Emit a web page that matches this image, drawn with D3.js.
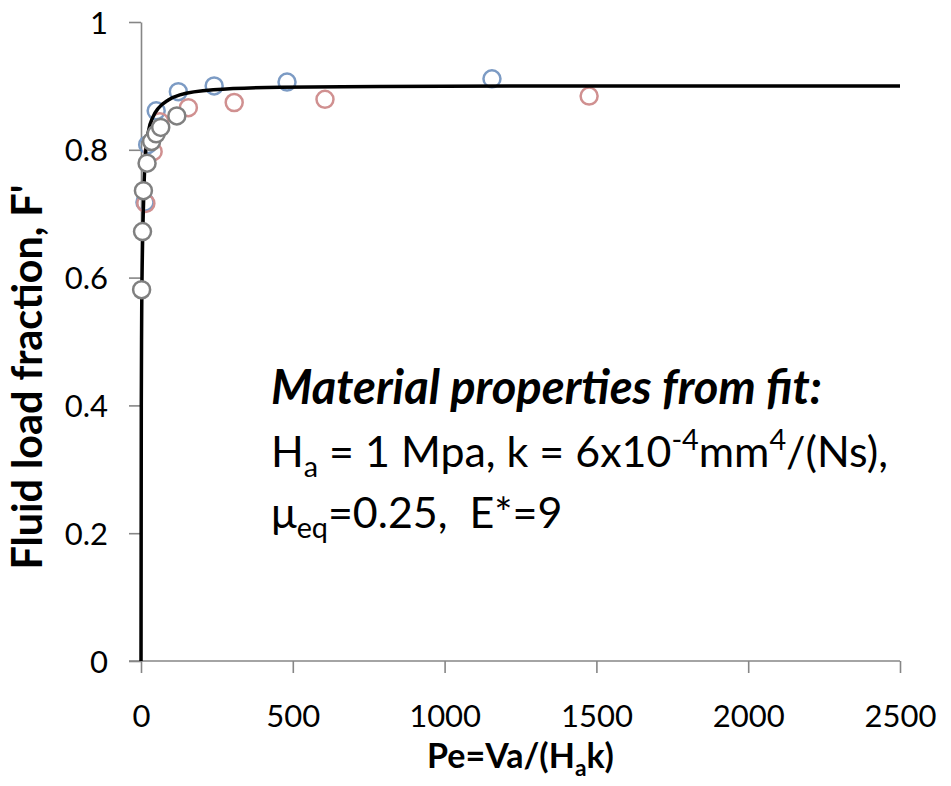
<!DOCTYPE html>
<html>
<head>
<meta charset="utf-8">
<script src="https://cdn.jsdelivr.net/npm/d3@7"></script>
<style>
  body { margin: 0; background: #fff; }
  text { font-family: Lato, "Open Sans", sans-serif; fill: #000; }
</style>
</head>
<body>
<div id="chart"></div>
<script>
// measured points (Pe, F')
var blueX = [13, 22, 50, 123, 241, 481, 1156];
var blueY = [0.718, 0.808, 0.861, 0.891, 0.900, 0.906, 0.911];
var redX = [16, 40, 62, 156, 307, 606, 1476];
var redY = [0.716, 0.797, 0.844, 0.866, 0.874, 0.879, 0.884];
var grayX = [2, 5, 8, 20, 35, 50, 65, 118];
var grayY = [0.581, 0.672, 0.736, 0.779, 0.813, 0.825, 0.835, 0.853];

// fitted curve
var fitX = [0, 1, 2, 5, 8, 13, 24, 40, 57, 90, 128, 238, 458, 787, 1500, 2500];
var fitY = [0, 0.40, 0.52, 0.65, 0.71, 0.78, 0.828, 0.852, 0.865, 0.878, 0.886, 0.894, 0.898, 0.899, 0.900, 0.900];

var xTicks = [0, 500, 1000, 1500, 2000, 2500];
var yTicks = [0, 0.2, 0.4, 0.6, 0.8, 1];

var width = 951, height = 786;
var plotLeft = 141, plotRight = 900, plotTop = 22, plotBottom = 661;

var svg = d3.select("#chart").append("svg").attr("width", width).attr("height", height);

var x = d3.scaleLinear().domain([0, 2500]).range([plotLeft, plotRight]);
var y = d3.scaleLinear().domain([0, 1]).range([plotBottom, plotTop]);

function zip(xs, ys) {
    return xs.map(function (d, i) { return [d, ys[i]]; });
}

// set font size so the text spans a given width
function fitWidth(sel, w) {
    var len = sel.node().getComputedTextLength();
    var fs = parseFloat(sel.attr("font-size"));
    sel.attr("font-size", fs * w / len);
    return fs * w / len;
}

var axisColor = "#868686";

var xAxis = svg.append("g")
    .attr("transform", "translate(0," + plotBottom + ")")
    .call(d3.axisBottom(x).tickValues(xTicks).tickSize(12).tickSizeOuter(0).tickFormat(d3.format("d")));
var yAxis = svg.append("g")
    .attr("transform", "translate(" + plotLeft + ",0)")
    .call(d3.axisLeft(y).tickValues(yTicks).tickSize(12).tickSizeOuter(0)
        .tickFormat(function (d) { return d === 0 || d === 1 ? d : d.toFixed(1); }));

[xAxis, yAxis].forEach(function (g) {
    g.select(".domain").attr("stroke", axisColor).attr("stroke-width", 1.6);
    g.selectAll(".tick line").attr("stroke", axisColor).attr("stroke-width", 1.6);
    g.selectAll(".tick text").attr("font-size", 31).attr("font-family", "Lato").attr("fill", "#000");
});
xAxis.select(".domain").attr("d", "M" + (plotLeft - 12) + ",0H" + plotRight);
xAxis.selectAll(".tick text").attr("y", 66).attr("dy", 0);
yAxis.selectAll(".tick text").attr("x", -33).attr("dy", "0.36em");

function drawPoints(xs, ys, color, fill) {
    svg.append("g").selectAll("circle")
        .data(zip(xs, ys))
        .enter()
        .append("circle")
        .attr("cx", function (d) { return x(d[0]); })
        .attr("cy", function (d) { return y(d[1]); })
        .attr("r", 8.5)
        .attr("fill", fill)
        .attr("stroke", color)
        .attr("stroke-width", 2.5);
}

drawPoints(blueX, blueY, "#7C9BC4", "none");
drawPoints(redX, redY, "#D09090", "none");

var line = d3.line()
    .x(function (d) { return x(d[0]); })
    .y(function (d) { return y(d[1]); })
    .curve(d3.curveMonotoneX);

svg.append("path")
    .datum(zip(fitX, fitY))
    .attr("d", line)
    .attr("fill", "none")
    .attr("stroke", "#000")
    .attr("stroke-width", 3.5);

drawPoints(grayX, grayY, "#808080", "#fff");

// axis titles
var xTitle = svg.append("text")
    .attr("x", (plotLeft + plotRight) / 2)
    .attr("y", 768)
    .attr("text-anchor", "middle")
    .attr("font-weight", "bold")
    .attr("font-size", 32);
xTitle.append("tspan").text("Pe=Va/(H");
xTitle.append("tspan").text("a").attr("font-size", "0.67em").attr("baseline-shift", "-0.35em");
xTitle.append("tspan").text("k)");
fitWidth(xTitle, 187);

var yTitle = svg.append("text")
    .attr("transform", "translate(42,377) rotate(-90)")
    .attr("text-anchor", "middle")
    .attr("font-weight", "bold")
    .attr("font-size", 32)
    .text("Fluid load fraction, F'");
fitWidth(yTitle, 385);

// annotation
var note1 = svg.append("text")
    .attr("x", 271).attr("y", 404)
    .attr("font-weight", "bold").attr("font-style", "italic")
    .attr("font-size", 44)
    .text("Material properties from fit:");
fitWidth(note1, 551);

var note2 = svg.append("text")
    .attr("x", 271).attr("y", 467)
    .attr("font-size", 44);
note2.append("tspan").text("H");
note2.append("tspan").text("a").attr("font-size", "0.67em").attr("baseline-shift", "-0.35em");
note2.append("tspan").text(" = 1 Mpa, k = 6x10");
note2.append("tspan").text("-4").attr("font-size", "0.67em").attr("baseline-shift", "0.6em");
note2.append("tspan").text("mm");
note2.append("tspan").text("4").attr("font-size", "0.67em").attr("baseline-shift", "0.6em");
note2.append("tspan").text("/(Ns),");
var noteSize = fitWidth(note2, 617);

var note3 = svg.append("text")
    .attr("x", 271).attr("y", 528)
    .attr("xml:space", "preserve")
    .attr("font-size", noteSize);
note3.append("tspan").text("\u03bc");
note3.append("tspan").text("eq").attr("font-size", "0.67em").attr("baseline-shift", "-0.35em");
note3.append("tspan").text("=0.25,  E*=9");
</script>
</body>
</html>
